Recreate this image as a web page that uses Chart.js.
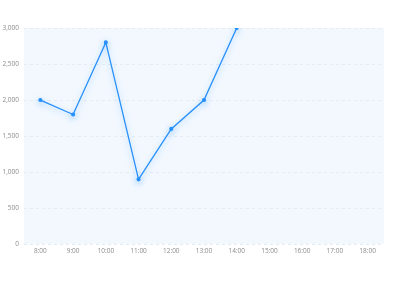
<!DOCTYPE html>
<html>
<head>
<meta charset="utf-8">
<script src="https://cdn.jsdelivr.net/npm/chart.js@4/dist/chart.umd.min.js"></script>
<style>
  html, body { margin: 0; padding: 0; background: #fff; }
  #wrap { width: 400px; height: 300px; }
</style>
</head>
<body>
<div id="wrap"><canvas id="chart"></canvas></div>
<script>
// hourly values, nothing recorded after 14:00
const hours = ["8:00", "9:00", "10:00", "11:00", "12:00", "13:00", "14:00", "15:00", "16:00", "17:00", "18:00"];
const values = [2000, 1800, 2800, 900, 1600, 2000, 3000, null, null, null, null];
const yTicks = [0, 500, 1000, 1500, 2000, 2500, 3000];

const BLUE = "#2690fb";
const AREA = "#f3f8fe";
const GRID = "#e3ebf3";
const TICK = "#8c8c8c";

// paint the plot area background
const areaBg = {
  id: "areaBg",
  beforeDraw(chart) {
    const { ctx, chartArea: a } = chart;
    ctx.save();
    ctx.fillStyle = AREA;
    ctx.fillRect(a.left, a.top, a.right - a.left, a.bottom - a.top);
    ctx.restore();
  },
};

// soft glow under the line
const glow = {
  id: "glow",
  beforeDatasetDraw(chart) {
    const ctx = chart.ctx;
    ctx.save();
    ctx.shadowColor = "rgba(24,144,255,0.4)";
    ctx.shadowBlur = 6;
    ctx.shadowOffsetY = 2;
  },
  afterDatasetDraw(chart) { chart.ctx.restore(); },
};

new Chart(document.getElementById("chart").getContext("2d"), {
  type: "line",
  data: {
    labels: hours,
    datasets: [{
      data: values,
      borderColor: BLUE,
      backgroundColor: BLUE,
      borderWidth: 1.3,
      pointRadius: 1.4,
      pointHoverRadius: 3,
      tension: 0,
      spanGaps: false,
    }],
  },
  plugins: [areaBg, glow],
  options: {
    responsive: true, maintainAspectRatio: false, animation: false,
    layout: { padding: { top: 28, right: 16, bottom: 42, left: 0 } },
    plugins: { legend: { display: false }, tooltip: { enabled: false } },
    scales: {
      x: {
        offset: true,
        grid: { display: false, drawTicks: false },
        border: { display: false },
        ticks: { color: TICK, font: { family: "'Open Sans', sans-serif", size: 6.5 }, maxRotation: 0, autoSkip: false, padding: 3 },
      },
      y: {
        min: 0, max: 3000,
        afterBuildTicks: (axis) => { axis.ticks = yTicks.map((v) => ({ value: v })); },
        afterFit: (axis) => { axis.width = 24; },
        grid: { color: GRID, drawTicks: false },
        border: { display: false, dash: [3, 3] },
        ticks: {
          color: TICK, padding: 5,
          font: { family: "'Open Sans', sans-serif", size: 6.5 },
          callback: (v) => v.toLocaleString("en-US"),
        },
      },
    },
  },
});
</script>
</body>
</html>
